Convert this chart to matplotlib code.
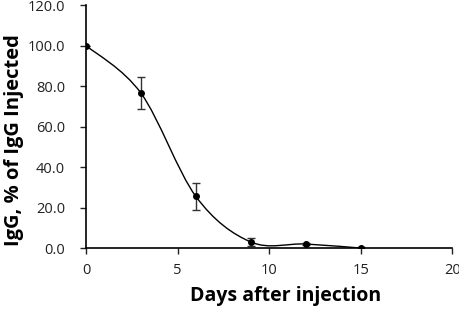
import numpy as np
import matplotlib
matplotlib.use('Agg')
import matplotlib.pyplot as plt
from matplotlib.path import Path
from matplotlib.patches import PathPatch

# Data
days = [0, 3, 6, 9, 12, 15]
igg_pct = [100.0, 76.5, 25.5, 3.0, 2.0, 0.0]
igg_err = [0.0, 8.0, 6.5, 2.0, 0.5, 0.5]
x_ticks = [0, 5, 10, 15, 20]
y_ticks = [0, 20, 40, 60, 80, 100, 120]

plt.rcParams['font.family'] = ['Open Sans', 'DejaVu Sans']

fig = plt.figure(figsize=(4.6, 3.16), dpi=100)
ax = fig.add_axes([0.187, 0.215, 0.796, 0.769])

# Excel-style smoothed line: Catmull-Rom segments drawn as cubic Beziers
pts = np.column_stack([days, igg_pct]).astype(float)
verts = [tuple(pts[0])]
codes = [Path.MOVETO]
n = len(pts)
for i in range(n - 1):
    p_prev = pts[max(i - 1, 0)]
    p0 = pts[i]
    p1 = pts[i + 1]
    p_next = pts[min(i + 2, n - 1)]
    c1 = p0 + (p1 - p_prev) / 6.0
    c2 = p1 - (p_next - p0) / 6.0
    verts += [tuple(c1), tuple(c2), tuple(p1)]
    codes += [Path.CURVE4] * 3
ax.add_patch(PathPatch(Path(verts, codes), facecolor='none', edgecolor='black', lw=1.0))

ax.errorbar(days, igg_pct, yerr=igg_err, fmt='o', color='black', ms=4,
            ecolor='#333333', elinewidth=1.0, capsize=3, capthick=1.0)

ax.set_xlim(0, 20)
ax.set_ylim(0, 120)
ax.set_xticks(x_ticks)
ax.set_yticks(y_ticks)
ax.set_yticklabels([f'{v:.1f}' for v in y_ticks])
ax.spines['top'].set_visible(False)
ax.spines['right'].set_visible(False)
ax.spines['left'].set_linewidth(1.2)
ax.spines['bottom'].set_linewidth(1.2)
ax.tick_params(axis='both', direction='out', length=4, width=1.0, labelsize=10.5,
               colors='#222222')
ax.tick_params(axis='y', pad=11)
ax.tick_params(axis='x', pad=7)

fig.text(0.03, 0.557, 'IgG, % of IgG Injected', rotation=90, ha='center', va='center',
         fontsize=14.5, fontweight='bold')
fig.text(0.62, 0.063, 'Days after injection', ha='center', va='center',
         fontsize=14, fontweight='bold')

fig.savefig('out.png', dpi=100)
